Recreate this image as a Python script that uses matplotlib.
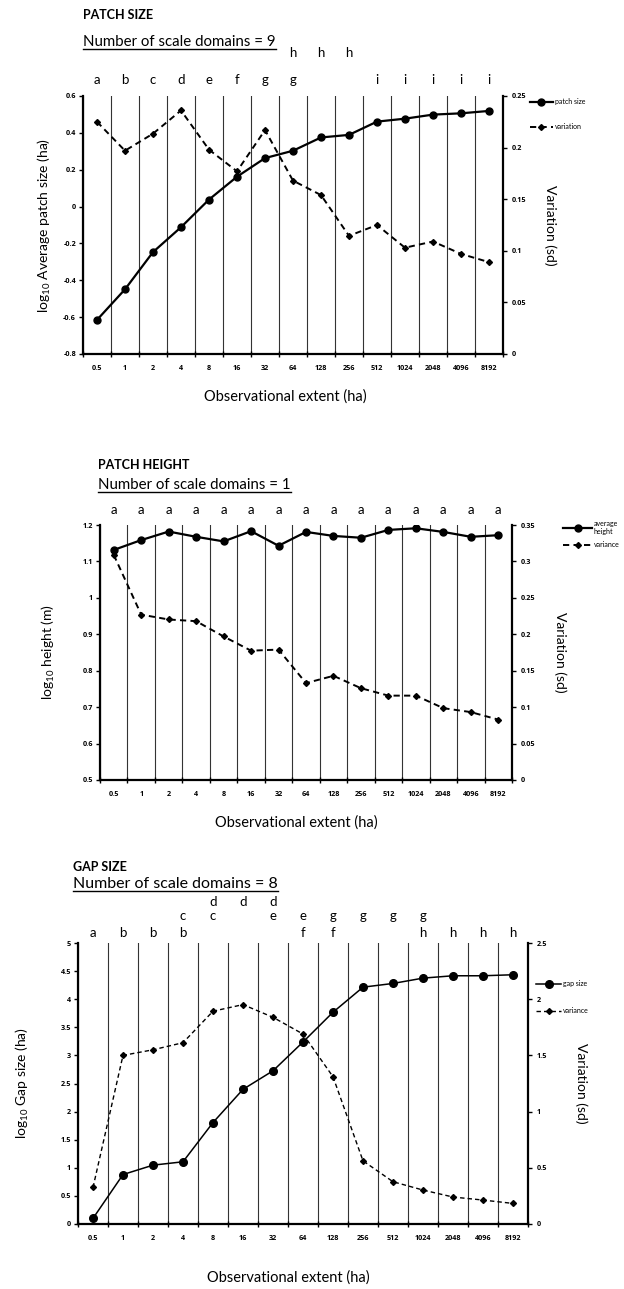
import matplotlib
matplotlib.use('Agg')
import matplotlib.pyplot as plt
import numpy as np
from matplotlib.lines import Line2D

plt.rcParams['font.family'] = ['Lato', 'DejaVu Sans']
plt.rcParams['mathtext.fontset'] = 'custom'
plt.rcParams['mathtext.rm'] = 'Lato'
plt.rcParams['mathtext.it'] = 'Lato:italic'
plt.rcParams['mathtext.bf'] = 'Lato:bold'

# ---------------- data ----------------
extent = ['0.5', '1', '2', '4', '8', '16', '32', '64', '128', '256',
          '512', '1024', '2048', '4096', '8192']

patch_size = [-0.615, -0.449, -0.247, -0.112, 0.038, 0.162, 0.263, 0.303,
              0.375, 0.389, 0.461, 0.477, 0.499, 0.506, 0.519]
patch_size_var = [0.225, 0.197, 0.2135, 0.236, 0.198, 0.177, 0.217, 0.168,
                  0.154, 0.1145, 0.125, 0.103, 0.109, 0.097, 0.089]
patch_size_low = ['a', 'b', 'c', 'd', 'e', 'f', 'g', 'g', '', '', 'i', 'i', 'i', 'i', 'i']
patch_size_high = ['', '', '', '', '', '', '', 'h', 'h', 'h', '', '', '', '', '']

patch_height = [1.1315, 1.1586, 1.182, 1.1676, 1.155, 1.183, 1.143, 1.181,
                1.170, 1.165, 1.1865, 1.191, 1.181, 1.1676, 1.172]
patch_height_var = [0.309, 0.227, 0.2203, 0.218, 0.197, 0.1775, 0.179, 0.133,
                    0.143, 0.126, 0.1158, 0.1158, 0.0986, 0.0932, 0.0829]
patch_height_low = ['a'] * 15

gap_size = [0.10, 0.88, 1.047, 1.107, 1.805, 2.396, 2.726, 3.238, 3.768,
            4.214, 4.28, 4.375, 4.417, 4.417, 4.435]
gap_size_var = [0.325, 1.50, 1.55, 1.613, 1.893, 1.952, 1.839, 1.690, 1.31,
                0.562, 0.376, 0.302, 0.24, 0.213, 0.183]
gap_low = ['a', 'b', 'b', 'b', '', '', '', 'f', 'f', '', '', 'h', 'h', 'h', 'h']
gap_mid = ['', '', '', 'c', 'c', '', 'e', 'e', 'g', 'g', 'g', 'g', '', '', '']
gap_top = ['', '', '', '', 'd', 'd', 'd', '', '', '', '', '', '', '', '']

# ---------------- layout ----------------
W, H = 624, 1289
fig = plt.figure(figsize=(W / 100, H / 100), dpi=100)
TICKFONT = dict(fontsize=5.2, fontweight='bold', family=['Open Sans', 'DejaVu Sans'])


def rect(x0, y0, x1, y1):
    return [x0 / W, 1 - y1 / H, (x1 - x0) / W, (y1 - y0) / H]


def fmt(v):
    return '%g' % (round(v, 6) + 0.0)


def panel(box, ylim, ystep, rlim, rstep, main, var, main_lab, var_lab,
          ylabel, ylab_x, rlab_x, xlab_xy, letter_rows, leg_xy, leg_kw,
          lw_main=1.6, lw_var=1.4, ms=5.0, dms=3.0):
    x0, y0, x1, y1 = box
    ax = fig.add_axes(rect(*box))
    ax2 = ax.twinx()
    n = len(extent)
    xs = np.arange(n)
    ax.set_xlim(-0.5, n - 0.5)
    ax.set_xticks(np.arange(-0.5, n, 1.0))
    ax.set_xticklabels([])
    ax.set_xticks(xs, minor=True)
    ax.set_xticklabels(extent, minor=True, **TICKFONT)
    ax.tick_params(axis='x', which='major', direction='inout', length=5, width=1)
    ax.tick_params(axis='x', which='minor', length=0, pad=8)
    ax.grid(True, axis='x', which='major', color='#333333', lw=0.8)
    ax.set_axisbelow(True)

    ax.set_ylim(*ylim)
    yt = np.arange(ylim[0], ylim[1] + ystep / 2, ystep)
    ax.set_yticks(yt, labels=[fmt(v) for v in yt], **TICKFONT)
    ax.tick_params(axis='y', direction='out', length=3, width=1, pad=2)

    ax2.set_ylim(*rlim)
    rt = np.arange(rlim[0], rlim[1] + rstep / 2, rstep)
    ax2.set_yticks(rt, labels=[fmt(v) for v in rt], **TICKFONT)
    ax2.tick_params(axis='y', direction='out', length=3, width=1, pad=3)

    for a in (ax, ax2):
        a.spines['top'].set_visible(False)
    ax.spines['right'].set_visible(False)
    ax2.spines['left'].set_visible(False)
    ax2.spines['bottom'].set_visible(False)
    ax.spines['left'].set_linewidth(1.6)
    ax.spines['bottom'].set_linewidth(1.6)
    ax2.spines['right'].set_linewidth(1.6)

    l1, = ax.plot(xs, main, '-', color='black', lw=lw_main, marker='o',
                  ms=ms, zorder=3, label=main_lab)
    l2, = ax2.plot(xs, var, color='black', lw=lw_var, ls=(0, (3.2, 2.2)),
                   marker='D', ms=dms, zorder=3, label=var_lab)

    ax.set_ylabel(ylabel, fontsize=10)
    ax.yaxis.set_label_coords((ylab_x - x0) / (x1 - x0), 0.5)
    ax.yaxis.label.set_va('center')
    ax2.set_ylabel('Variation (sd)', fontsize=10, rotation=-90)
    ax2.yaxis.set_label_coords((rlab_x - x0) / (x1 - x0), 0.5)
    ax2.yaxis.label.set_va('center')

    ax.set_xlabel('Observational extent (ha)', fontsize=10.5)
    ax.xaxis.set_label_coords((xlab_xy[0] - x0) / (x1 - x0),
                              -(xlab_xy[1] - y1) / (y1 - y0))
    ax.xaxis.label.set_va('center')

    for row, ypx in letter_rows:
        yf = 1 + (y0 - ypx) / (y1 - y0)
        for i, s in enumerate(row):
            if s:
                ax.text(i, yf, s, transform=ax.get_xaxis_transform(),
                        ha='center', va='center', fontsize=9.5)

    ax2.legend(handles=[l1, l2], loc='upper left',
               bbox_to_anchor=(leg_xy[0] / W, 1 - leg_xy[1] / H),
               bbox_transform=fig.transFigure, frameon=False, fontsize=5,
               borderpad=0, borderaxespad=0, numpoints=1, **leg_kw)
    return ax


def heading(x, y_title, y_sub, title, sub, sub_size):
    fig.text(x / W, 1 - y_title / H, title, fontsize=9, fontweight='bold',
             va='center', ha='left')
    t = fig.text(x / W, 1 - y_sub / H, sub, fontsize=sub_size, va='center', ha='left')
    return t, y_sub


subs = []

panel((83, 96, 503, 354), (-0.8, 0.6), 0.2, (0, 0.25), 0.05,
      patch_size, patch_size_var, 'patch size', 'variation',
      'log$_{10}$ Average patch size (ha)', 44, 550, (285, 397),
      [(patch_size_low, 80), (patch_size_high, 53)], (530, 98),
      dict(handlelength=3.3, handletextpad=0.3, labelspacing=2.6))
subs.append(heading(83, 15, 42, 'PATCH SIZE', 'Number of scale domains = 9', 10.8))

panel((100, 525, 512, 780), (0.5, 1.2), 0.1, (0, 0.35), 0.05,
      patch_height, patch_height_var, 'average\nheight', 'variance',
      'log$_{10}$ height (m)', 48, 560, (296, 823),
      [(patch_height_low, 510)], (563, 520),
      dict(handlelength=4.2, handletextpad=0.2, labelspacing=0.9))
subs.append(heading(98, 465, 485, 'PATCH HEIGHT', 'Number of scale domains = 1', 10.8))

panel((78, 943, 528, 1224), (0, 5), 0.5, (0, 2.5), 0.5,
      gap_size, gap_size_var, 'gap size', 'variance',
      'log$_{10}$ Gap size (ha)', 22, 581, (288, 1278),
      [(gap_low, 933), (gap_mid, 916), (gap_top, 902)], (536, 980),
      dict(handlelength=3.6, handletextpad=0.3, labelspacing=2.9),
      lw_main=1.1, lw_var=1.0, ms=5.5, dms=3.0)
subs.append(heading(73, 867, 884, 'GAP SIZE', 'Number of scale domains = 8', 11.5))

fig.canvas.draw()
r = fig.canvas.get_renderer()
for t, ysub in subs:
    bb = t.get_window_extent(r)
    yl = 1 - (ysub + 6.5) / H
    fig.add_artist(Line2D([bb.x0 / W, bb.x1 / W], [yl, yl],
                          transform=fig.transFigure, color='black', lw=1))

fig.savefig('out.png', dpi=100)
